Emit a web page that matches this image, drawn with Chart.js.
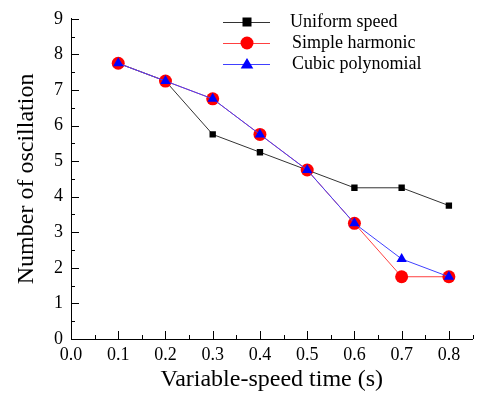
<!DOCTYPE html>
<html>
<head>
<meta charset="utf-8">
<script src="https://cdn.jsdelivr.net/npm/chart.js@4"></script>
<style>
  html, body { margin: 0; padding: 0; background: #fff; }
  #wrap { width: 479px; height: 398px; }
</style>
</head>
<body>
<div id="wrap"><canvas id="myChart" width="479" height="398"></canvas></div>
<script>
// data
var times = [0.1, 0.2, 0.3, 0.4, 0.5, 0.6, 0.7, 0.8];
var uniformSpeed = [7.75, 7.25, 5.75, 5.25, 4.75, 4.25, 4.25, 3.75];
var simpleHarmonic = [7.75, 7.25, 6.75, 5.75, 4.75, 3.25, 1.75, 1.75];
var cubicPolynomial = [7.75, 7.25, 6.75, 5.75, 4.75, 3.25, 2.25, 1.75];
var xTicks = [0, 0.1, 0.2, 0.3, 0.4, 0.5, 0.6, 0.7, 0.8];
var yTicks = [0, 1, 2, 3, 4, 5, 6, 7, 8, 9];

var serif = "'Liberation Serif', 'Times New Roman', serif";

function toPoints(vals) {
    return times.map(function (t, i) { return { x: t, y: vals[i] }; });
}

// inward ticks (major + minor), like the original plot
var inwardTicks = {
    id: 'inwardTicks',
    afterDraw: function (chart) {
        var ctx = chart.ctx;
        var xs = chart.scales.x, ys = chart.scales.y;
        var left = chart.chartArea.left, bottom = chart.chartArea.bottom;
        ctx.save();
        ctx.strokeStyle = '#000';
        ctx.lineWidth = 1;
        ctx.beginPath();
        for (var v = 0; v <= 0.851; v += 0.05) {
            var px = Math.round(xs.getPixelForValue(v)) + 0.5;
            var major = Math.abs(v * 10 - Math.round(v * 10)) < 0.01;
            ctx.moveTo(px, bottom);
            ctx.lineTo(px, bottom - (major ? 8 : 4));
        }
        for (var w = 0; w <= 9.01; w += 0.5) {
            var py = Math.round(ys.getPixelForValue(w)) + 0.5;
            var maj = Math.abs(w - Math.round(w)) < 0.01;
            ctx.moveTo(left, py);
            ctx.lineTo(left + (maj ? 8 : 4), py);
        }
        ctx.stroke();
        ctx.restore();
    }
};

function drawMarker(ctx, style, r, x, y) {
    if (style === 'rect') {
        ctx.rect(x - r, y - r, 2 * r, 2 * r);
    } else if (style === 'triangle') {
        ctx.moveTo(x, y - r);
        ctx.lineTo(x + r * 1.05, y + r * 0.75);
        ctx.lineTo(x - r * 1.05, y + r * 0.75);
        ctx.closePath();
    } else {
        ctx.arc(x, y, r, 0, Math.PI * 2);
    }
}

// legend drawn in the top right, inside the plot
var boxLegend = {
    id: 'boxLegend',
    afterDraw: function (chart) {
        var ctx = chart.ctx;
        var rows = chart.data.datasets;
        ctx.save();
        ctx.font = '18px ' + serif;
        ctx.textBaseline = 'middle';
        ctx.textAlign = 'left';
        rows.forEach(function (ds, i) {
            var y = 22 + i * 21;
            ctx.strokeStyle = ds.borderColor;
            ctx.lineWidth = 1;
            ctx.beginPath();
            ctx.moveTo(223, y + 0.5);
            ctx.lineTo(270, y + 0.5);
            ctx.stroke();
            ctx.fillStyle = ds.pointBackgroundColor;
            ctx.beginPath();
            drawMarker(ctx, ds.pointStyle, ds.pointRadius, 247, y);
            ctx.fill();
            ctx.fillStyle = '#000';
            ctx.fillText(ds.label, i === 0 ? 290 : 292, y);
        });
        ctx.restore();
    }
};

var ctxL = document.getElementById('myChart').getContext('2d');
window.myChart = new Chart(ctxL, {
    type: 'line',
    data: {
        datasets: [{
            label: 'Uniform speed',
            data: toPoints(uniformSpeed),
            borderColor: '#333333',
            borderWidth: 1,
            pointStyle: 'rect',
            pointRadius: 4.5,
            pointBackgroundColor: '#000',
            pointBorderWidth: 0,
            order: 3
        }, {
            label: 'Simple harmonic',
            data: toPoints(simpleHarmonic),
            borderColor: '#ff4040',
            borderWidth: 1,
            pointStyle: 'circle',
            pointRadius: 6.5,
            pointBackgroundColor: '#ff0000',
            pointBorderWidth: 0,
            order: 2
        }, {
            label: 'Cubic polynomial',
            data: toPoints(cubicPolynomial),
            borderColor: '#4040ff',
            borderWidth: 1,
            pointStyle: 'triangle',
            pointRadius: 6,
            pointBackgroundColor: '#0000ff',
            pointBorderWidth: 0,
            order: 1
        }]
    },
    options: {
        responsive: false,
        animation: false,
        layout: { padding: { top: 15, right: 2, left: 0, bottom: 0 } },
        plugins: {
            legend: { display: false },
            tooltip: { enabled: false }
        },
        scales: {
            x: {
                type: 'linear',
                min: 0,
                max: 0.85,
                afterBuildTicks: function (scale) {
                    scale.ticks = xTicks.map(function (v) { return { value: v }; });
                },
                afterFit: function (scale) { scale.height = 59; },
                grid: { display: false, drawTicks: false },
                border: { display: true, color: '#000', width: 1 },
                ticks: {
                    color: '#000',
                    font: { family: serif, size: 18 },
                    padding: 5,
                    maxRotation: 0,
                    callback: function (v) { return v.toFixed(1); }
                },
                title: {
                    display: true,
                    text: 'Variable-speed time (s)',
                    color: '#000',
                    font: { family: serif, size: 24 },
                    padding: { top: 0, bottom: 4 }
                }
            },
            y: {
                min: 0,
                max: 9,
                afterBuildTicks: function (scale) {
                    scale.ticks = yTicks.map(function (v) { return { value: v }; });
                },
                afterFit: function (scale) { scale.width = 71; },
                grid: { display: false, drawTicks: false },
                border: { display: true, color: '#000', width: 1 },
                ticks: {
                    color: '#000',
                    font: { family: serif, size: 18 },
                    padding: 8
                },
                title: {
                    display: true,
                    text: 'Number of oscillation',
                    color: '#000',
                    font: { family: serif, size: 24 },
                    padding: { top: 12, bottom: 0 }
                }
            }
        }
    },
    plugins: [inwardTicks, boxLegend]
});
</script>
</body>
</html>
